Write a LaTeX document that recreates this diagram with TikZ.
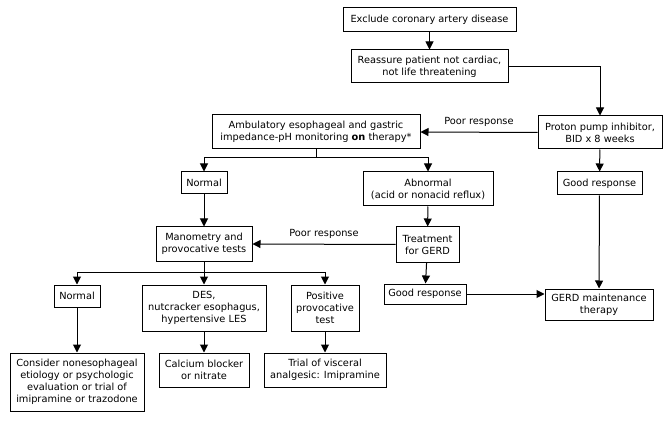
\documentclass[tikz,border=0pt]{standalone}
\usepackage{fontspec}
\setmainfont{DejaVu Sans}
\usetikzlibrary{arrows.meta}
\begin{document}
\begin{tikzpicture}[x=1pt,y=-1pt, font=\fontsize{9.8}{12}\selectfont,
 box/.style={draw, line width=1pt, align=center, inner sep=0pt},
 arr/.style={-{Triangle[length=8pt,width=8pt]}, line width=1pt},
 ln/.style={line width=1pt},
 lbl/.style={inner sep=0pt}]
\useasboundingbox[fill=white] (0,0) rectangle (672,422);
\node[box, minimum width=173pt, minimum height=24pt] (excl) at (429.5,20) {Exclude coronary artery disease};
\node[box, minimum width=157pt, minimum height=33pt] (reas) at (429.5,66.5) {Reassure patient not cardiac,\\not life threatening};
\node[box, minimum width=124pt, minimum height=33pt] (ppi) at (600,132.5) {Proton pump inhibitor,\\BID x 8 weeks};
\node[box, minimum width=208pt, minimum height=34pt] (amb) at (316,132) {Ambulatory esophageal and gastric\\impedance-pH monitoring \textbf{on} therapy*};
\node[box, minimum width=85pt, minimum height=23pt] (good1) at (599.5,183.5) {Good response};
\node[box, minimum width=46pt, minimum height=22pt] (norm1) at (204,183) {Normal};
\node[box, minimum width=130pt, minimum height=34pt] (abn) at (428,189) {Abnormal\\(acid or nonacid reflux)};
\node[box, minimum width=96pt, minimum height=34pt] (mano) at (204,244) {Manometry and\\provocative tests};
\node[box, minimum width=63pt, minimum height=35pt] (treat) at (427.5,244.5) {Treatment\\for GERD};
\node[box, minimum width=82pt, minimum height=20pt] (good2) at (425,294) {Good response};
\node[box, minimum width=108pt, minimum height=31pt] (maint) at (599,304.5) {GERD maintenance\\therapy};
\node[box, minimum width=46pt, minimum height=22pt] (norm2) at (77,296) {Normal};
\node[box, minimum width=124pt, minimum height=46pt] (des) at (204,308) {DES,\\nutcracker esophagus,\\hypertensive LES};
\node[box, minimum width=68pt, minimum height=46pt] (pos) at (325,308) {Positive\\provocative\\test};
\node[box, minimum width=134pt, minimum height=58pt] (cons) at (77,382) {Consider nonesophageal\\etiology or psychologic\\evaluation or trial of\\imipramine or trazodone};
\node[box, minimum width=90pt, minimum height=34pt] (calc) at (204,370) {Calcium blocker\\or nitrate};
\node[box, minimum width=122pt, minimum height=34pt] (trial) at (325,370) {Trial of visceral\\analgesic: Imipramine};

\draw[arr] (excl) -- (reas);
\draw[arr] (reas.east) -| (ppi.north);
\draw[arr] (ppi.west) -- node[lbl, above=5pt] {Poor response} (amb.east);
\draw[arr] (ppi) -- (good1);
\draw[arr] (good1) -- (maint);
\coordinate (b1) at (316,158);
\draw[ln] (amb.south) -- (b1);
\draw[arr] (b1) -| (norm1.north);
\draw[arr] (b1) -| (abn.north);
\draw[arr] (norm1) -- (mano);
\draw[arr] (abn) -- (treat);
\draw[arr] (treat.west) -- node[lbl, above=5pt] {Poor response} (mano.east);
\draw[arr] (treat) -- (good2);
\draw[arr] (good2.east) -- (good2.east -| maint.west);
\coordinate (b2) at (204,272);
\draw[ln] (mano.south) -- (b2);
\draw[arr] (b2) -| (norm2.north);
\draw[arr] (b2) -- (des.north);
\draw[arr] (b2) -| (pos.north);
\draw[arr] (norm2) -- (cons);
\draw[arr] (des) -- (calc);
\draw[arr] (pos) -- (trial);
\end{tikzpicture}
\end{document}
